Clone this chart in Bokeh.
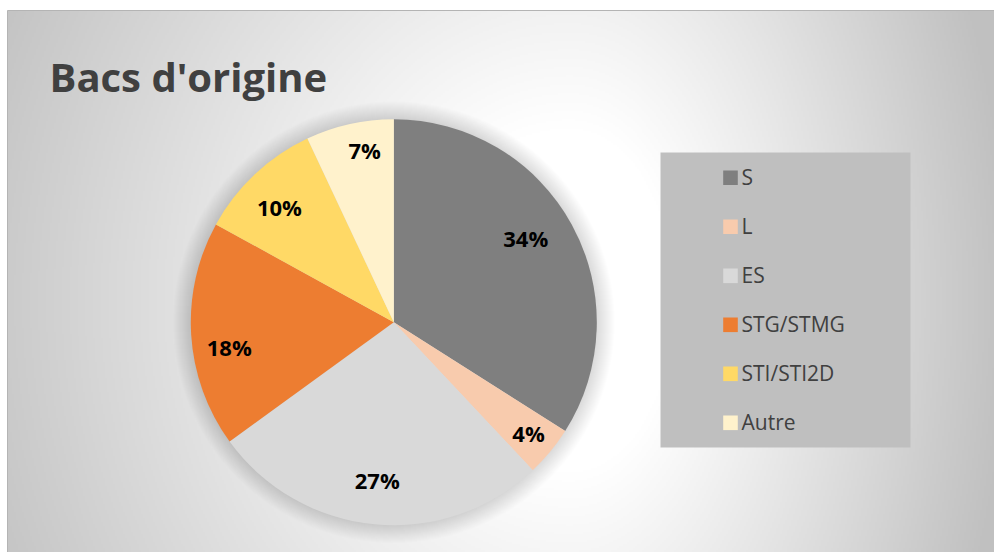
import numpy as np
from bokeh.plotting import figure
from bokeh.models import Range1d, ColumnDataSource
from bokeh.core.properties import value
from bokeh.embed import file_html
from bokeh.resources import INLINE

# ---------------- data ----------------
title = "Bacs d'origine"
categories = ["S", "L", "ES", "STG/STMG", "STI/STI2D", "Autre"]
shares = [34, 4, 27, 18, 10, 7]
colors = ["#7f7f7f", "#f8cbad", "#d9d9d9", "#ed7d31", "#ffd966", "#fff2cc"]

# ---------------- layout (image pixel coordinates) ----------------
IMG_W, IMG_H = 994, 552
def py(y):
    return IMG_H - y

p = figure(width=IMG_W, height=IMG_H, output_backend="svg", toolbar_location=None,
           x_range=Range1d(0, IMG_W), y_range=Range1d(0, IMG_H),
           x_axis_location=None, y_axis_location=None,
           min_border=0)
p.grid.visible = False
p.background_fill_color = "white"
p.border_fill_color = "white"
p.outline_line_color = None

# chart area with radial gradient background
CX0, CY0 = 7, 10
nx, ny = 497, 271
xs = CX0 + (np.arange(nx) + 0.5) * (IMG_W - CX0) / nx
ys_img = IMG_H - (np.arange(ny) + 0.5) * (IMG_H - CY0) / ny
XX, YY = np.meshgrid(xs, ys_img)
gcx, gcy = 570.0, 300.0
rx = np.where(XX < gcx, 620.0, 420.0)
ry = 690.0
t = np.sqrt(((XX - gcx) / rx) ** 2 + ((YY - gcy) / ry) ** 2)
f = np.clip((t - 0.25) / 0.8, 0, 1)
g = (255 - 63 * f).astype(np.uint8)
img = np.empty((ny, nx), dtype=np.uint32)
view = img.view(dtype=np.uint8).reshape((ny, nx, 4))
view[..., 0] = g
view[..., 1] = g
view[..., 2] = g
view[..., 3] = 255
p.image_rgba(image=[img], x=CX0, y=0, dw=IMG_W - CX0, dh=IMG_H - CY0)
p.segment(x0=[CX0, CX0], y0=[py(CY0), py(CY0)], x1=[IMG_W, CX0], y1=[py(CY0), 0],
          line_color="#b4b4b4", line_width=1)

# ---------------- pie ----------------
cx, cy, R = 393.3, py(321.7), 203.0
vals = np.array(shares, dtype=float)
frac = vals / vals.sum()
cum_end = np.cumsum(frac)
cum_start = cum_end - frac
start_angle = np.pi / 2 - 2 * np.pi * cum_end
end_angle = np.pi / 2 - 2 * np.pi * cum_start

# soft shadow
for k in range(1, 19):
    p.circle(x=[cx], y=[cy], radius=R + k * 1.0, fill_color="black",
             fill_alpha=0.009, line_color=None)

src = ColumnDataSource(dict(cat=categories, color=colors,
                            start=start_angle, end=end_angle))
p.wedge(x=cx, y=cy, radius=R, start_angle="start", end_angle="end",
        direction="anticlock", fill_color="color", line_color=None, source=src)

# data labels ("best fit" placement: radius fraction and angular nudge per slice)
label_rf = np.array([0.77, 0.86, 0.78, 0.82, 0.80, 0.86])
label_nudge_deg = np.array([-3.6, -0.1, 0.6, -5.0, -1.6, 3.0])
mid = (cum_start + cum_end) / 2
theta = np.pi / 2 - 2 * np.pi * mid - np.deg2rad(label_nudge_deg)
lx = cx + label_rf * R * np.cos(theta)
ly = cy + label_rf * R * np.sin(theta)
p.text(x=lx, y=ly, text=[f"{v}%" for v in shares], text_align="center",
       text_baseline="middle", text_font=value("Open Sans"),
       text_font_style="bold", text_font_size="22px", text_color="black")

# ---------------- legend ----------------
p.quad(left=660, right=910, top=py(152), bottom=py(447),
       fill_color="#bfbfbf", line_color=None)
idx = np.arange(len(categories))
p.rect(x=730, y=py(177.3 + idx * 49.0), width=14.6, height=14.6,
       fill_color=colors, line_color=None)
p.text(x=741, y=py(176.3 + idx * 49.0), text=categories, text_align="left",
       text_baseline="middle", text_font=value("Open Sans"),
       text_font_size="21px", text_color="#404040")

# ---------------- title ----------------
p.text(x=[49], y=[py(76)], text=[title], text_align="left",
       text_baseline="middle", text_font=value("Open Sans"),
       text_font_style="bold", text_font_size="40px", text_color="#404040")

open("out.html", "w").write(file_html(p, INLINE))
